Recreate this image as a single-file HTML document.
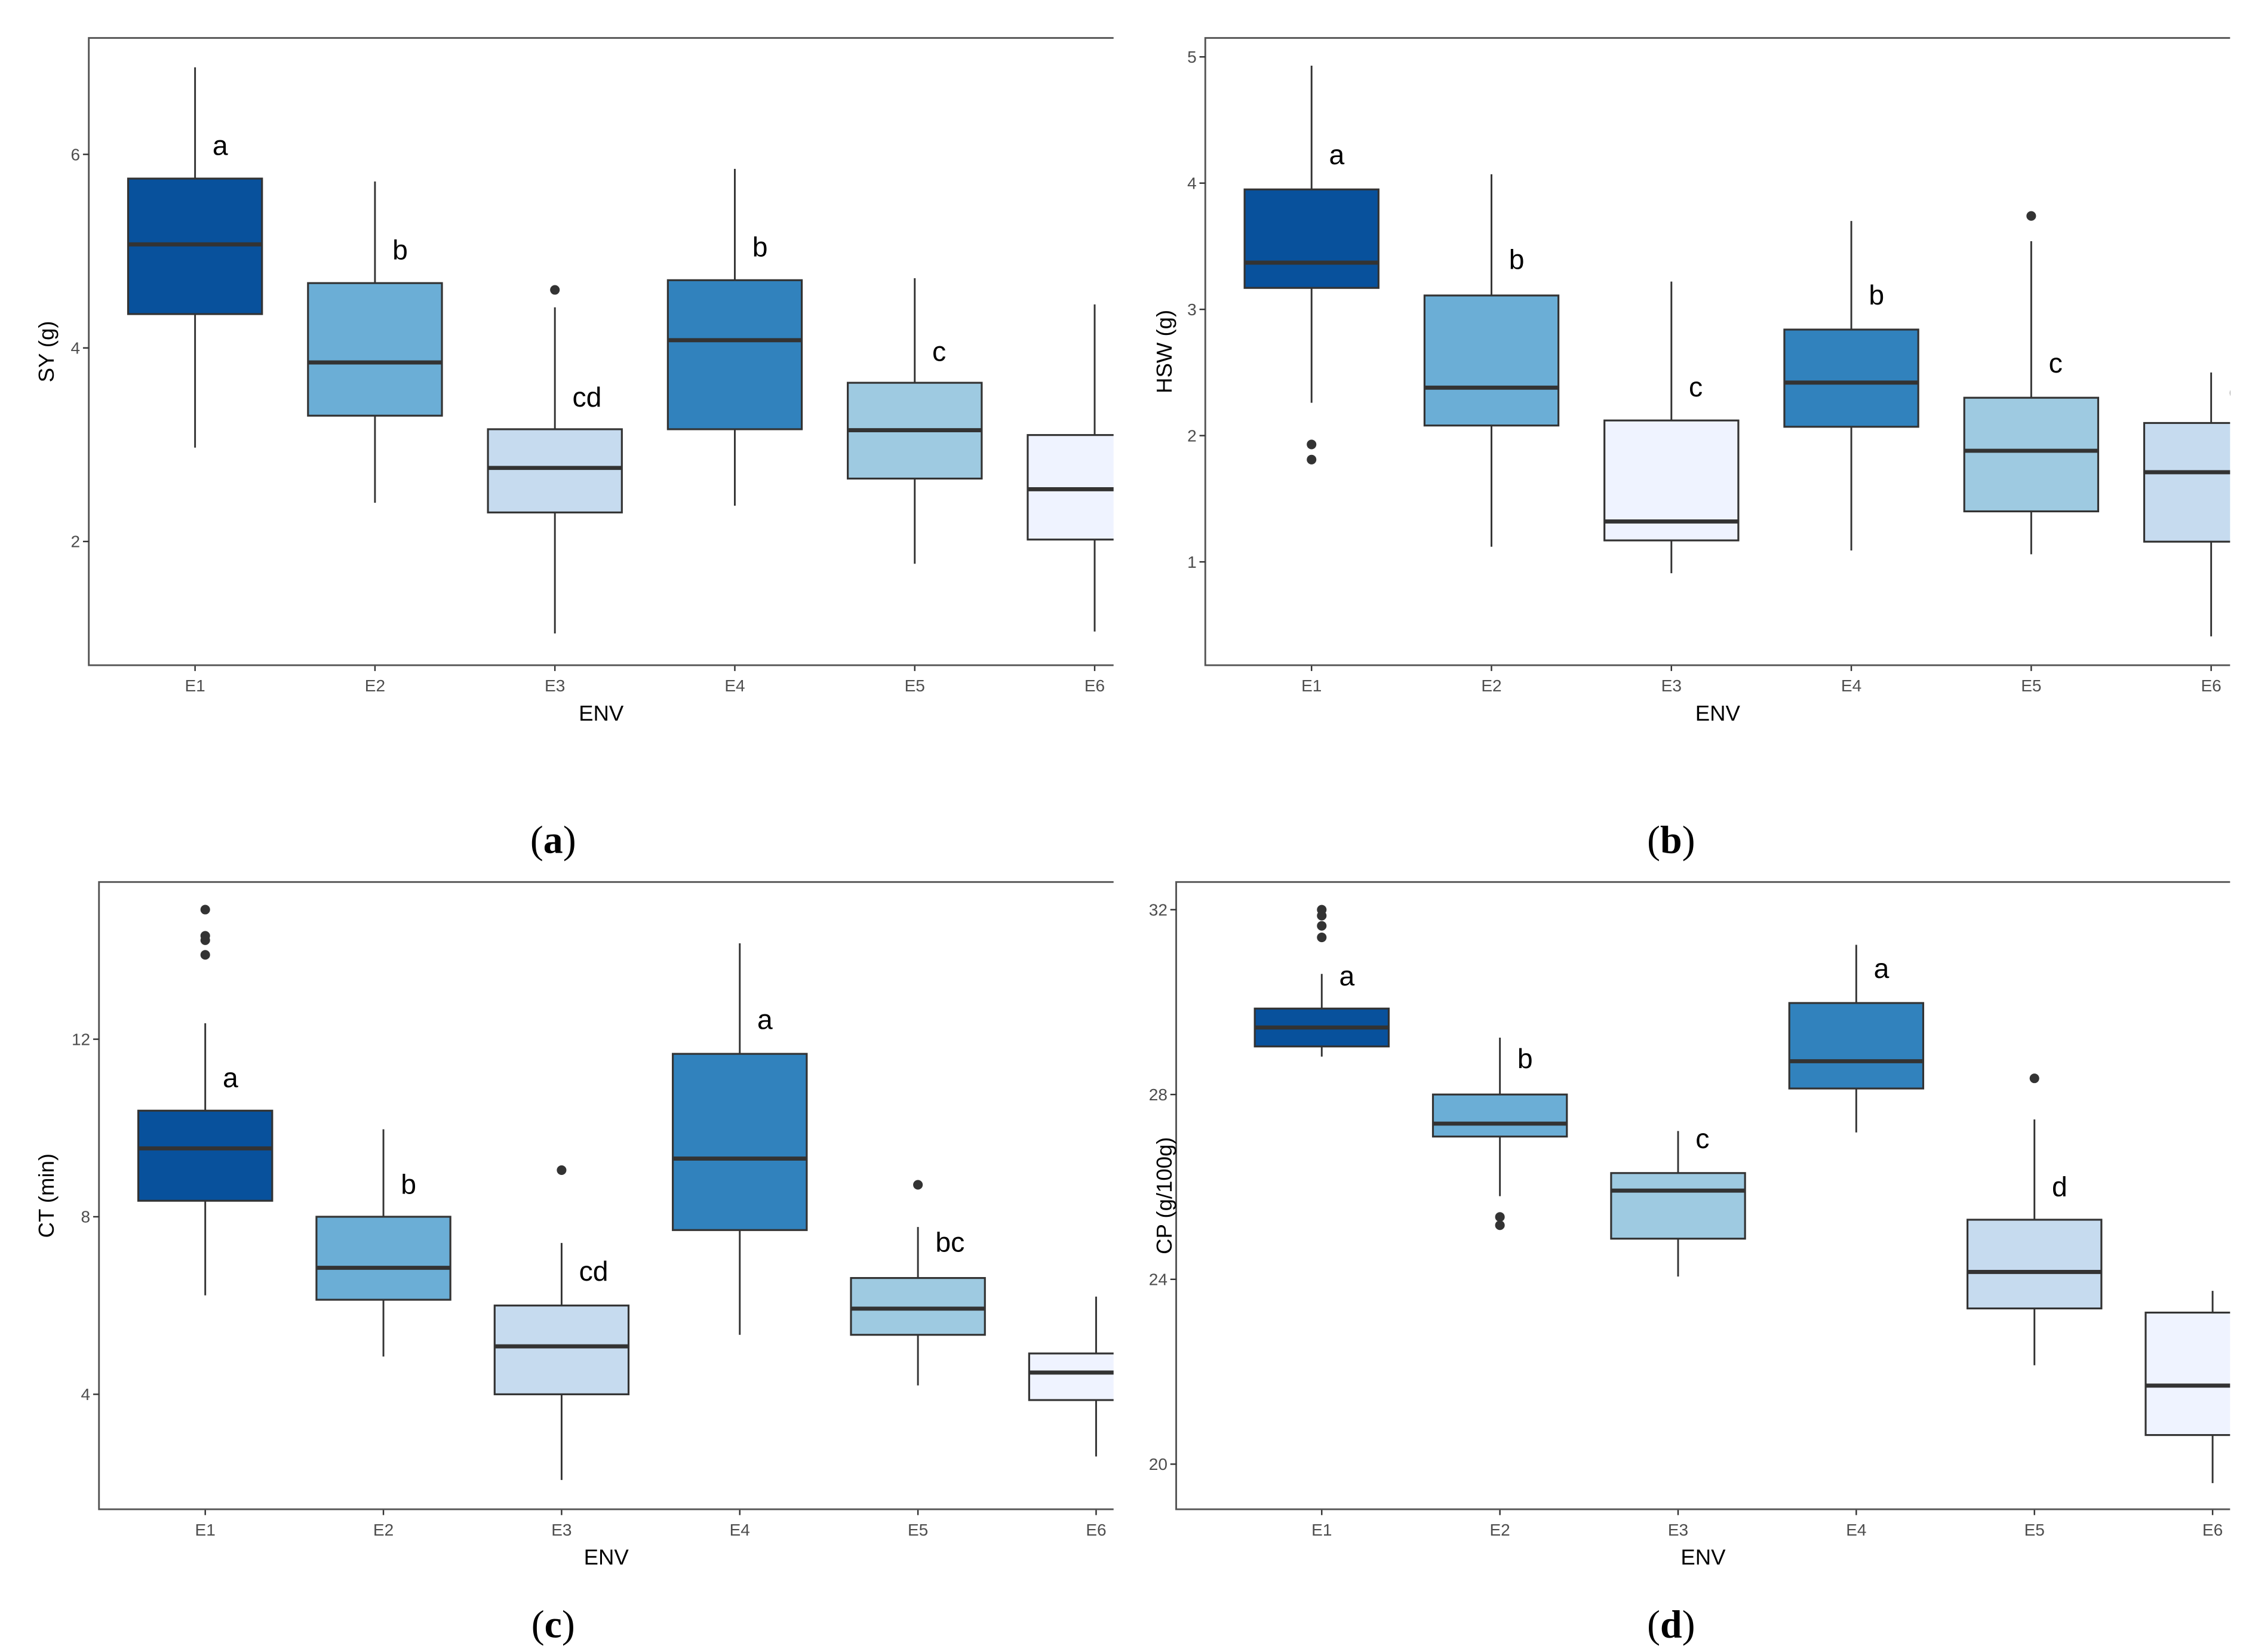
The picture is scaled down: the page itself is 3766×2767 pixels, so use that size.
<!DOCTYPE html>
<html><head><meta charset="utf-8"><style>
html,body{margin:0;padding:0;background:#fff;}
svg{display:block;}
</style></head><body>
<svg id="fig" width="3766" height="2767" viewBox="0 0 1545 1135" xmlns="http://www.w3.org/2000/svg" font-family="Liberation Sans, sans-serif">
<rect width="1545" height="1135" fill="#fff"/>
</svg>
<script>
const categories = ["E1","E2","E3","E4","E5","E6"];
// panel a: SY (g)
const syLow = [2.97,2.4,1.05,2.37,1.77,1.07];
const syQ1 = [4.35,3.3,2.3,3.16,2.65,2.02];
const syMed = [5.07,3.85,2.76,4.08,3.15,2.54];
const syQ3 = [5.75,4.67,3.16,4.7,3.64,3.1];
const syHigh = [6.9,5.72,4.42,5.85,4.72,4.45];
const syOut = [[],[],[4.6],[],[],[]];
const syLetters = ["a","b","cd","b","c",""];
const syLetterY = [6.1,5.02,3.5,5.05,3.97,0];
const syTicks = [2,4,6];
// panel b: HSW (g)
const hswLow = [2.26,1.12,0.91,1.09,1.06,0.41];
const hswQ1 = [3.17,2.08,1.17,2.07,1.40,1.16];
const hswMed = [3.37,2.38,1.32,2.42,1.88,1.71];
const hswQ3 = [3.95,3.11,2.12,2.84,2.30,2.10];
const hswHigh = [4.93,4.07,3.22,3.70,3.54,2.50];
const hswOut = [[1.93,1.81],[],[],[],[3.74],[]];
const hswLetters = ["a","b","c","b","c","c"];
const hswLetterY = [4.23,3.40,2.39,3.12,2.58,2.36];
const hswTicks = [1,2,3,4,5];
// panel c: CT (min)
const ctLow = [6.23,4.85,2.07,5.34,4.2,2.6];
const ctQ1 = [8.36,6.13,4.0,7.70,5.34,3.87];
const ctMed = [9.54,6.85,5.08,9.31,5.93,4.49];
const ctQ3 = [10.39,8.0,6.0,11.67,6.62,4.92];
const ctHigh = [12.36,9.97,7.41,14.16,7.77,6.2];
const ctOut = [[14.92,14.33,14.23,13.9],[],[9.05],[],[8.72],[]];
const ctLetters = ["a","b","cd","a","bc",""];
const ctLetterY = [11.15,8.75,6.79,12.46,7.44,0];
const ctTicks = [4,8,12];
// panel d: CP (g/100g)
const cpLow = [28.82,25.8,24.06,27.18,22.14,19.59];
const cpQ1 = [29.04,27.09,24.88,28.13,23.37,20.63];
const cpMed = [29.45,27.37,25.92,28.72,24.16,21.7];
const cpQ3 = [29.86,28.0,26.3,29.98,25.29,23.28];
const cpHigh = [30.61,29.23,27.21,31.24,27.46,23.75];
const cpOut = [[32,31.87,31.65,31.4],[25.35,25.17],[],[],[28.35],[]];
const cpLetters = ["a","b","c","a","d",""];
const cpLetterY = [30.58,28.79,27.06,30.74,26.02,0];
const cpTicks = [20,24,28,32];

const NS="http://www.w3.org/2000/svg";
const svg=document.getElementById('fig');
function mk(tag,attrs,parent){const e=document.createElementNS(NS,tag);for(const k in attrs)e.setAttribute(k,attrs[k]);(parent||svg).appendChild(e);return e;}

const panels=[
 {id:'a',x0:61,x1:765,y0:26,y1:457,v0:2,p0:372,ppu:66.5,cx0:134,dx:123.6,low:syLow,q1:syQ1,med:syMed,q3:syQ3,high:syHigh,out:syOut,let:syLetters,ly:syLetterY,ticks:syTicks,title:'SY (g)',tx:32,
  cols:['#08519c','#6baed6','#c6dbef','#3182bd','#9ecae1','#eff3ff'],cap:[380,577]},
 {id:'b',x0:828,x1:1532,y0:26,y1:457,v0:1,p0:386,ppu:86.75,cx0:901,dx:123.6,low:hswLow,q1:hswQ1,med:hswMed,q3:hswQ3,high:hswHigh,out:hswOut,let:hswLetters,ly:hswLetterY,ticks:hswTicks,title:'HSW (g)',tx:800,
  cols:['#08519c','#6baed6','#eff3ff','#3182bd','#9ecae1','#c6dbef'],cap:[1148,577]},
 {id:'c',x0:68,x1:765,y0:606,y1:1037,v0:4,p0:958,ppu:30.5,cx0:141,dx:122.4,low:ctLow,q1:ctQ1,med:ctMed,q3:ctQ3,high:ctHigh,out:ctOut,let:ctLetters,ly:ctLetterY,ticks:ctTicks,title:'CT (min)',tx:32,
  cols:['#08519c','#6baed6','#c6dbef','#3182bd','#9ecae1','#eff3ff'],cap:[380,1116]},
 {id:'d',x0:808,x1:1532,y0:606,y1:1037,v0:20,p0:1006,ppu:31.75,cx0:908,dx:122.4,low:cpLow,q1:cpQ1,med:cpMed,q3:cpQ3,high:cpHigh,out:cpOut,let:cpLetters,ly:cpLetterY,ticks:cpTicks,title:'CP (g/100g)',tx:800,
  cols:['#08519c','#6baed6','#9ecae1','#3182bd','#c6dbef','#eff3ff'],cap:[1148,1116]}
];

panels.forEach(p=>{
  const yS=v=>p.p0-(v-p.v0)*p.ppu;
  const xS=i=>p.cx0+i*p.dx;
  const g=mk('g',{});
  
  
  const cp=mk('clipPath',{id:'clip-'+p.id},g);
  mk('rect',{x:p.x0,y:p.y0,width:p.x1-p.x0,height:p.y1-p.y0},cp);
  const plot=mk('g',{'clip-path':'url(#clip-'+p.id+')'},g);
  categories.forEach((c,i)=>{
    const x=xS(i), hw=46;
    const bg=mk('g',{},plot);
    
    
    mk('line',{x1:x,x2:x,y1:yS(p.high[i]),y2:yS(p.low[i]),stroke:'#333',"stroke-width":1.2},bg);
    mk('rect',{x:x-hw,y:yS(p.q3[i]),width:hw*2,height:yS(p.q1[i])-yS(p.q3[i]),fill:p.cols[i],stroke:'#333',"stroke-width":1.3},bg);
    mk('line',{x1:x-hw,x2:x+hw,y1:yS(p.med[i]),y2:yS(p.med[i]),stroke:'#333',"stroke-width":2.8},bg);
    p.out[i].forEach(v=>{const o=mk('circle',{cx:x,cy:yS(v),r:3.3,fill:'#333'},bg);
      
      });
    if(p.let[i]){
      const t=mk('text',{x:x+12,y:yS(p.ly[i])+7,'font-size':19,fill:'#000'},plot);
      t.textContent=p.let[i];
      
      
    }
    mk('line',{x1:x,x2:x,y1:p.y1,y2:p.y1+4,stroke:'#333',"stroke-width":1},g);
    const tl=mk('text',{x:x,y:p.y1+18,'font-size':11.5,fill:'#4d4d4d','text-anchor':'middle'},g);
    tl.textContent=c;
    
    
  });
  mk('path',{d:`M${p.x1},${p.y0}H${p.x0}V${p.y1}H${p.x1}`,fill:'none',stroke:'#555',"stroke-width":1.2},g);
  p.ticks.forEach(v=>{
    const y=yS(v);
    mk('line',{x1:p.x0-4,x2:p.x0,y1:y,y2:y,stroke:'#333',"stroke-width":1},g);
    const t=mk('text',{x:p.x0-6,y:y+4,'font-size':11.5,fill:'#4d4d4d','text-anchor':'end'},g);
    t.textContent=v;
    
    
  });
  const cy=(p.y0+p.y1)/2;
  const yt=mk('text',{x:p.tx,y:cy,'font-size':15,fill:'#000','text-anchor':'middle',transform:`rotate(-90 ${p.tx} ${cy})`,dy:5},g);
  yt.textContent=p.title;
  
  
  const xt=mk('text',{x:(p.x0+p.x1)/2,y:p.y1+38,'font-size':15,fill:'#000','text-anchor':'middle'},g);
  xt.textContent='ENV';
  
  
  const cap=mk('text',{x:p.cap[0],y:p.cap[1]+9,'font-size':27,fill:'#000','text-anchor':'middle','font-family':'Liberation Serif, serif'},svg);
  cap.innerHTML='(<tspan font-weight="bold">'+p.id+'</tspan>)';
  
  
});
</script>
</body></html>
